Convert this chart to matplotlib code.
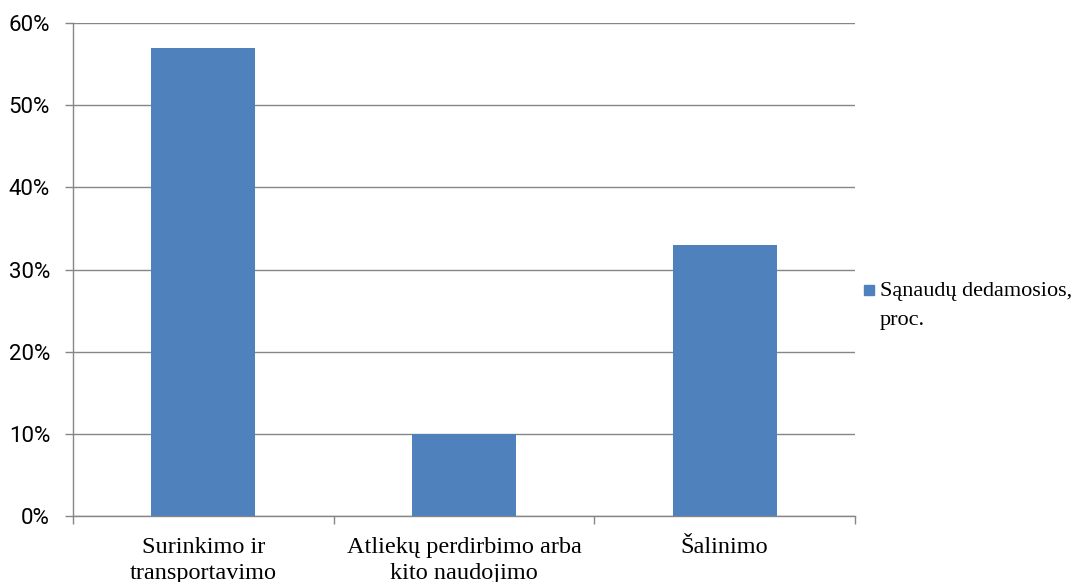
import matplotlib
matplotlib.use("Agg")
import matplotlib.pyplot as plt
from matplotlib.patches import Rectangle
from matplotlib.ticker import FuncFormatter

categories = ["Surinkimo ir\ntransportavimo", "Atliekų perdirbimo arba\nkito naudojimo", "Šalinimo"]
values = [57, 10, 33]
yticks = [0, 10, 20, 30, 40, 50, 60]
legend_lines = ["Sąnaudų dedamosios,", "proc."]

bar_color = "#4F81BD"
grid_color = "#868686"

W, H = 1075, 582
fig = plt.figure(figsize=(W/100, H/100), dpi=100)
ax = fig.add_axes([73/W, 1-516/H, (855-73)/W, (516-23)/H])

x = list(range(len(categories)))
ax.bar(x, values, width=0.40, color=bar_color, zorder=3)

ax.set_xlim(-0.5, len(categories) - 0.5)
ax.set_ylim(0, 60)
ax.set_yticks(yticks)
ax.yaxis.set_major_formatter(FuncFormatter(lambda v, p: f"{int(v)}%"))
ax.yaxis.grid(True, color=grid_color, linewidth=1.0, zorder=0)

# category labels at bar centres, tick marks at category boundaries
ax.set_xticks(x)
ax.set_xticklabels(categories, fontfamily="Liberation Serif", fontsize=17.5,
                   linespacing=1.33, va="top")
ax.tick_params(axis="x", which="major", length=0, pad=15)
ax.set_xticks([i - 0.5 for i in range(len(categories) + 1)], minor=True)
ax.tick_params(axis="x", which="minor", length=6, width=1, color=grid_color, direction="out")

ax.tick_params(axis="y", length=6, width=1, color=grid_color, pad=10.5,
               labelsize=16, direction="out")
for lab in ax.get_yticklabels():
    lab.set_fontfamily("Roboto")

for s in ["top", "right"]:
    ax.spines[s].set_visible(False)
for s in ["left", "bottom"]:
    ax.spines[s].set_color(grid_color)
    ax.spines[s].set_linewidth(1.0)

# legend
fig.patches.append(Rectangle((864/W, 1-295/H), 10/W, 10/H,
                             transform=fig.transFigure, color=bar_color, figure=fig))
fig.text(880/W, 1-296/H, legend_lines[0], fontfamily="Liberation Serif",
         fontsize=16, va="baseline", ha="left")
fig.text(880/W, 1-325/H, legend_lines[1], fontfamily="Liberation Serif",
         fontsize=16, va="baseline", ha="left")

fig.savefig("out.png", dpi=100)
